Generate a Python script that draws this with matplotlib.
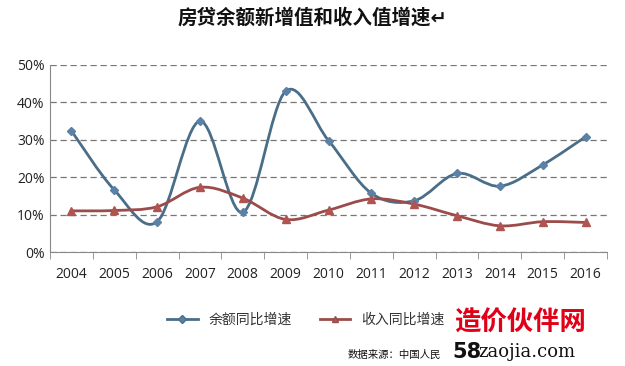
import numpy as np
import matplotlib.pyplot as plt
from matplotlib.path import Path
from matplotlib.patches import PathPatch

plt.rcParams['font.family'] = ['Noto Sans CJK SC', 'DejaVu Sans']

# data
years = ['2004', '2005', '2006', '2007', '2008', '2009', '2010',
         '2011', '2012', '2013', '2014', '2015', '2016']
loan_growth = [32.4, 16.6, 8.1, 35.0, 10.6, 43.0, 29.8,
               15.7, 13.7, 21.0, 17.6, 23.3, 30.8]
income_growth = [11.0, 11.1, 12.1, 17.3, 14.4, 8.7, 11.2,
                 14.2, 12.8, 9.7, 7.0, 8.1, 7.9]


def smooth_path(xs, ys):
    # excel-like smoothed line: catmull-rom turned into cubic bezier segments
    pts = np.column_stack([xs, ys]).astype(float)
    n = len(pts)
    verts = [pts[0]]
    codes = [Path.MOVETO]
    for i in range(n - 1):
        p0 = pts[i - 1] if i > 0 else pts[i]
        p1 = pts[i]
        p2 = pts[i + 1]
        p3 = pts[i + 2] if i + 2 < n else pts[i + 1]
        c1 = p1 + (p2 - p0) / 6
        c2 = p2 - (p3 - p1) / 6
        verts += [c1, c2, p2]
        codes += [Path.CURVE4] * 3
    return Path(verts, codes)


x = np.arange(len(years))
blue = '#4a6e88'
red = '#9c4b4b'

fig = plt.figure(figsize=(6.25, 3.66), dpi=100)
ax = fig.add_axes([50 / 625, 1 - 252 / 366, 557 / 625, 187 / 366])

ax.add_patch(PathPatch(smooth_path(x, loan_growth), fill=False,
                       edgecolor=blue, lw=2.0, zorder=3))
ax.add_patch(PathPatch(smooth_path(x, income_growth), fill=False,
                       edgecolor=red, lw=2.0, zorder=3))
ax.plot(x, loan_growth, ls='none', marker='D', ms=4.5, color='#5b82a6',
        zorder=4)
ax.plot(x, income_growth, ls='none', marker='^', ms=5.5, color='#b05452',
        zorder=4)

ax.set_xlim(-0.5, len(years) - 0.5)
ax.set_ylim(0, 50)
ax.set_yticks(range(0, 51, 10))
ax.set_yticklabels([f'{v}%' for v in range(0, 51, 10)],
                   fontsize=10, color='#222222', family='Open Sans')
ax.set_xticks(x)
ax.set_xticklabels(years, fontsize=10, color='#222222', family='Open Sans')
ax.set_xticks(np.arange(-0.5, len(years)), minor=True)
ax.tick_params(axis='x', which='major', length=0, pad=11)
ax.tick_params(axis='x', which='minor', length=5, color='#888888',
               direction='out')
ax.tick_params(axis='y', length=0, pad=4)

ax.grid(axis='y', ls=(0, (5, 3)), color='#777777', lw=0.9)
for s in ['top', 'right']:
    ax.spines[s].set_visible(False)
for s in ['left', 'bottom']:
    ax.spines[s].set_color('#888888')
ax.spines['left'].set_bounds(0, 50)

fig.text(0.5, 1 - 18 / 366, '房贷余额新增值和收入值增速↵', ha='center',
         va='center', fontsize=14, fontweight='bold', color='#111111')

# legend
h1, = ax.plot([], [], color=blue, lw=2, marker='D', ms=4,
              markerfacecolor='#5b82a6')
h2, = ax.plot([], [], color=red, lw=2, marker='^', ms=5,
              markerfacecolor='#b05452')
fig.legend([h1, h2], ['余额同比增速', '收入同比增速'], loc='center',
           bbox_to_anchor=(306 / 625, 1 - 320 / 366), ncol=2, frameon=False,
           fontsize=10, handlelength=2.2, columnspacing=2.0,
           labelcolor='#333333')

fig.text(348 / 625, 1 - 355 / 366, '数据来源：中国人民', fontsize=7.5,
         va='center', color='#111111')
fig.text(454 / 625, 1 - 323 / 366, '造价伙伴网', fontsize=19,
         va='center', color='#e00018', fontweight='bold')
fig.text(452 / 625, 1 - 352 / 366, '58', fontsize=15, va='center',
         color='#111111', fontweight='bold', family='DejaVu Sans')
fig.text(478 / 625, 1 - 352 / 366, 'zaojia.com', fontsize=13, va='center',
         color='#111111', family='DejaVu Serif')

fig.savefig('out.png', dpi=100)
